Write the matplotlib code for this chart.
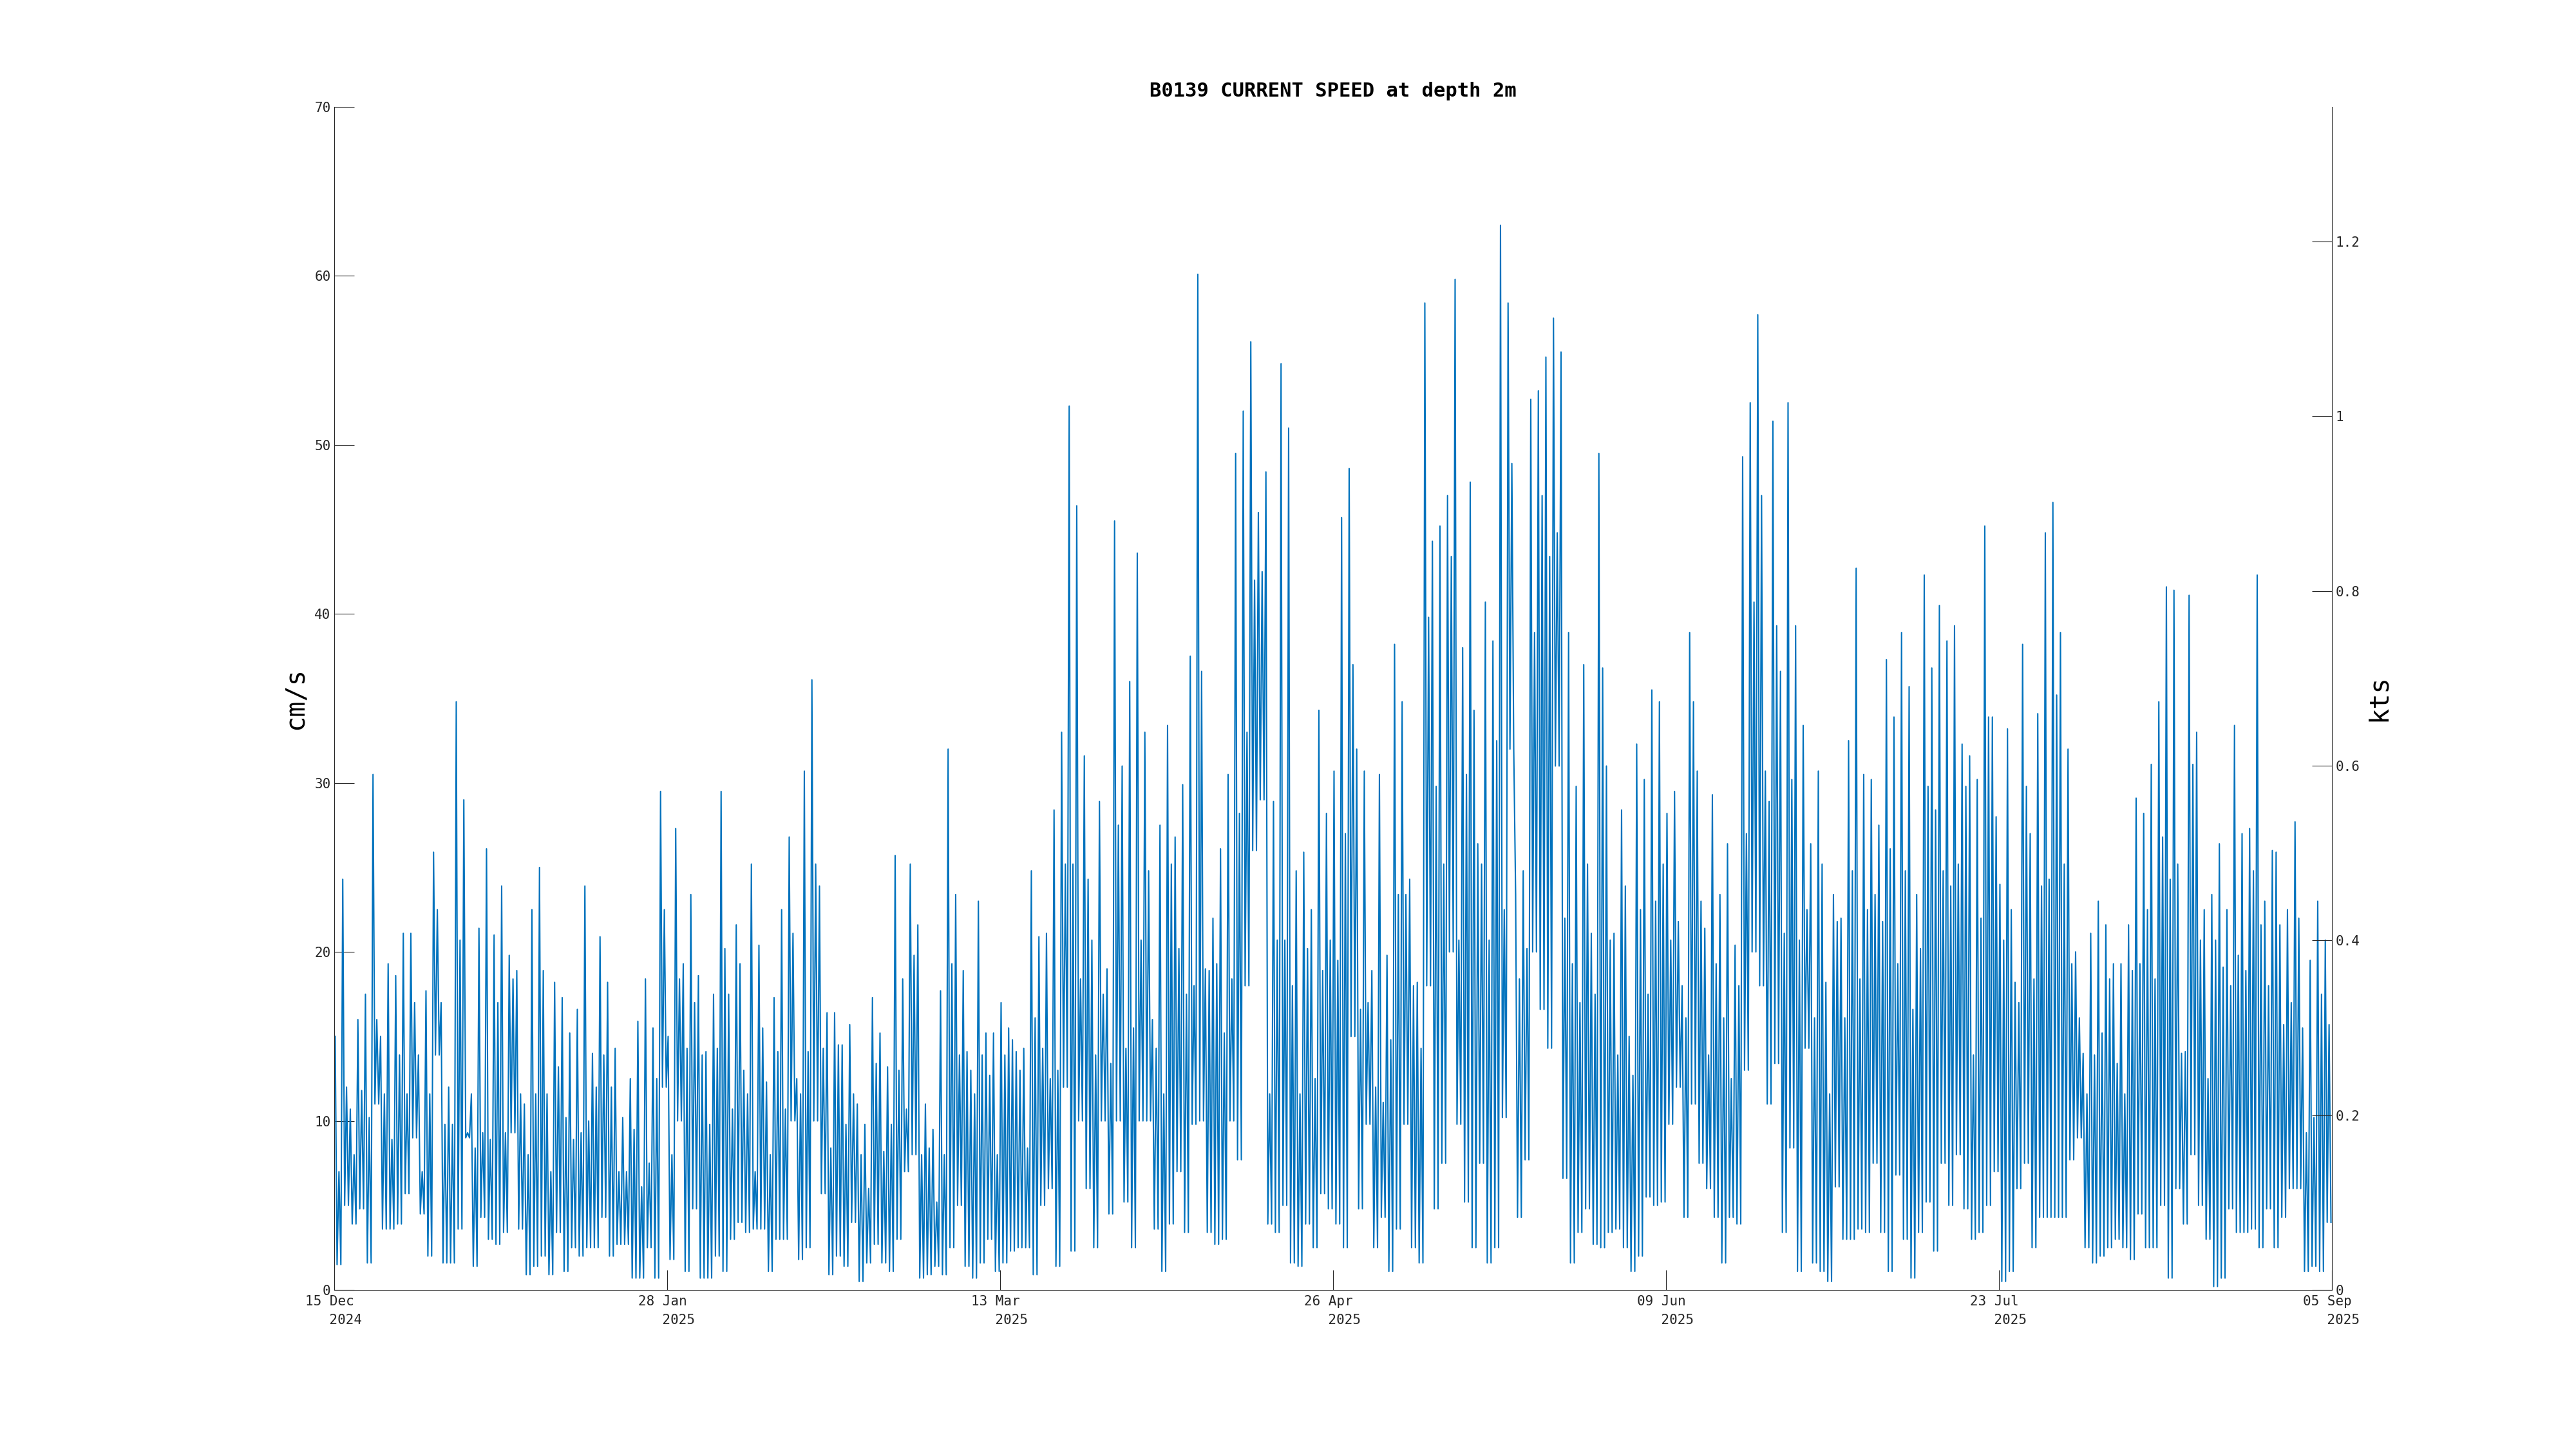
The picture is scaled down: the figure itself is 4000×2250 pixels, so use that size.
import numpy as np
import matplotlib
matplotlib.use('Agg')
import matplotlib.pyplot as plt
from matplotlib.transforms import ScaledTranslation

# ---------------- data ----------------
START = '2024-12-15'
END = '2025-09-05'

# per day (from 15 Dec 2024): highest peak, lowest trough and a secondary peak (cm/s)
DAILY_MAX = [
    15, 24.3, 10.7, 16, 17.5, 30.5, 15, 19.3, 18.6, 21.1,
    21.1, 13.9, 17.7, 25.9, 17, 12, 34.8, 29, 11.6, 21.4,
    26.1, 21, 23.9, 19.8, 18.9, 11, 22.5, 25, 11.6, 18.2,
    17.3, 15.2, 16.6, 23.9, 14, 20.9, 18.2, 14.3, 10.2, 12.5,
    15.9, 18.4, 15.5, 29.5, 15, 27.3, 19.3, 23.4, 18.6, 14.1,
    17.5, 29.5, 17.5, 21.6, 13, 25.2, 20.4, 12.3, 17.3, 22.5,
    26.8, 12.5, 30.7, 36.1, 23.9, 16.4, 16.4, 14.5, 15.7, 11,
    9.8, 17.3, 15.2, 13.2, 25.7, 18.4, 25.2, 21.6, 11, 9.5,
    17.7, 32, 23.4, 18.9, 13, 23, 15.2, 15.2, 17, 15.5,
    14.1, 14.3, 24.8, 20.9, 21.1, 28.4, 33, 52.3, 46.4, 31.6,
    20.7, 28.9, 19, 45.5, 31, 36, 43.6, 33, 16, 27.5,
    33.4, 26.8, 29.9, 37.5, 60.1, 19, 22, 26.1, 30.5, 49.5,
    52, 56.1, 46, 48.4, 28.9, 54.8, 51, 24.8, 25.9, 22.5,
    34.3, 28.2, 30.7, 45.7, 48.6, 32, 30.7, 18.9, 30.5, 19.8,
    38.2, 34.8, 24.3, 18.2, 58.4, 44.3, 45.2, 47, 59.8, 38,
    47.8, 26.4, 40.7, 38.4, 63, 58.4, 23.4, 24.8, 52.7, 53.2,
    55.2, 57.5, 55.5, 38.9, 29.8, 37, 21.1, 49.5, 31, 21.1,
    28.4, 15, 32.3, 30.2, 35.5, 34.8, 28.2, 29.5, 18, 38.9,
    30.7, 21.4, 29.3, 23.4, 26.4, 20.4, 49.3, 52.5, 57.7, 30.7,
    51.4, 36.6, 52.5, 39.3, 33.4, 26.4, 30.7, 18.2, 23.4, 22,
    32.5, 42.7, 30.5, 30.2, 27.5, 37.3, 33.9, 38.9, 35.7, 23.4,
    42.3, 36.8, 40.5, 38.4, 39.3, 32.3, 31.6, 30.2, 45.2, 33.9,
    24, 33.2, 18.2, 38.2, 27, 34.1, 44.8, 46.6, 38.9, 32,
    20, 14, 21.1, 23, 21.6, 19.3, 19.3, 21.6, 29.1, 28.2,
    31.1, 34.8, 41.6, 41.4, 14, 41.1, 33, 22.5, 23.4, 26.4,
    22.5, 33.4, 27, 27.3, 42.3, 23, 26, 21.6, 22.5, 27.7,
    15.5, 19.5, 23, 20.7,
]
DAILY_MIN = [
    1.5, 5, 3.9, 4.8, 1.6, 11, 3.6, 3.6, 3.9, 5.7,
    9, 4.5, 2, 13.9, 1.6, 1.6, 3.6, 9, 1.4, 4.3,
    3, 2.7, 3.4, 9.3, 3.6, 0.9, 1.4, 2, 0.9, 3.4,
    1.1, 2.5, 2, 2.5, 2.5, 4.3, 2, 2.7, 2.7, 0.7,
    0.7, 2.5, 0.7, 12, 1.8, 10, 1.1, 4.8, 0.7, 0.7,
    2, 1.1, 3, 4, 3.4, 3.6, 3.6, 1.1, 3, 3,
    10, 1.8, 2.5, 10, 5.7, 0.9, 2, 1.4, 4, 0.5,
    1.6, 2.7, 1.6, 1.1, 3, 7, 8, 0.7, 0.9, 1.4,
    0.9, 2.5, 5, 1.4, 0.7, 1.6, 3, 1.1, 1.6, 2.3,
    2.5, 2.5, 0.9, 5, 6, 1.4, 12, 2.3, 10, 6,
    2.5, 10, 4.5, 10, 5.2, 2.5, 10, 10, 3.6, 1.1,
    3.9, 7, 3.4, 9.8, 10, 3.4, 2.7, 3, 10, 7.7,
    18, 26, 29, 3.9, 3.4, 5, 1.6, 1.4, 3.9, 2.5,
    5.7, 4.8, 3.9, 2.5, 15, 4.8, 9.8, 2.5, 4.3, 1.1,
    3.6, 9.8, 2.5, 1.6, 18, 4.8, 7.5, 20, 9.8, 5.2,
    2.5, 7.5, 1.6, 2.5, 10.2, 32, 4.3, 7.7, 20, 16.6,
    14.3, 31, 6.6, 1.6, 3.4, 4.8, 2.7, 2.5, 3.4, 3.6,
    2.5, 1.1, 2, 5.5, 5, 5.2, 9.8, 12, 4.3, 11,
    7.5, 6, 4.3, 1.6, 4.3, 3.9, 13, 20, 18, 11,
    13.4, 3.4, 8.4, 1.1, 14.3, 1.6, 1.1, 0.5, 6.1, 3,
    3, 3.6, 3.4, 7.5, 3.4, 1.1, 6.8, 3, 0.7, 3.4,
    5.2, 2.3, 7.5, 5, 8, 4.8, 3, 3.4, 5, 7,
    0.5, 1.1, 6, 7.5, 2.5, 4.3, 4.3, 4.3, 4.3, 7.7,
    9, 2.5, 1.6, 2, 2.5, 3, 2.5, 1.8, 4.5, 2.5,
    2.5, 5, 0.7, 6, 3.9, 8, 5, 3, 0.2, 0.7,
    4.8, 3.4, 3.4, 3.6, 2.5, 4.8, 2.5, 4.3, 6, 6,
    1.1, 1.4, 1.1, 4,
]
DAILY_MID = [
    7, 12, 8, 11.8, 10.2, 16, 11.6, 8.9, 13.9, 11.6,
    17, 7, 11.6, 22.5, 9.8, 9.8, 20.7, 9.3, 8.4, 9.3,
    8.9, 17, 9.3, 18.4, 11.6, 8, 11.6, 18.9, 7, 13.2,
    10.2, 8.9, 9.3, 10, 12, 13.9, 12, 7, 7, 9.5,
    6.1, 7.5, 12.5, 22.5, 8, 18.4, 14.3, 17, 13.9, 9.8,
    14.3, 20.2, 10.7, 19.3, 11.6, 7, 15.5, 8, 14.1, 10.7,
    21.1, 11.6, 14.1, 25.2, 14.3, 8.4, 14.5, 9.8, 11.6, 8,
    6, 13.4, 8.2, 9.8, 13, 10.7, 19.8, 8, 8.4, 5.2,
    8, 19.3, 13.9, 14.1, 11.6, 13.9, 12.7, 8, 13.9, 14.8,
    13, 8.4, 16.1, 14.3, 12.5, 13, 25.2, 25.2, 18.4, 24.3,
    13.9, 17.5, 13.4, 27.5, 14.3, 15.5, 20.7, 24.8, 14.3, 11.6,
    25.2, 20.2, 17.5, 18, 36.6, 18.9, 19.3, 15.2, 18.4, 28.2,
    33, 42, 42.5, 11.6, 20.7, 20.7, 18, 11.6, 20.2, 12.5,
    18.9, 20.7, 19.5, 27, 37, 16.6, 17, 12, 11.1, 14.8,
    23.4, 23.4, 18, 14.3, 39.8, 29.8, 25.2, 43.4, 20.7, 30.5,
    34.3, 25.2, 20.7, 32.5, 22.5, 48.9, 18.4, 20.2, 38.9, 47,
    43.4, 44.8, 22, 19.3, 17, 25.2, 17.5, 36.8, 20.7, 13.9,
    23.9, 12.7, 22.5, 17.5, 23, 25.2, 20.7, 21.8, 16.1, 34.8,
    23, 13.9, 19.3, 16.1, 12.5, 18, 27, 40.7, 47, 28.9,
    39.3, 21.1, 30.2, 20.7, 22.5, 16.1, 25.2, 11.6, 21.8, 16.1,
    24.8, 18.4, 22.5, 23.4, 21.8, 26.1, 19.3, 24.8, 16.6, 20.2,
    29.8, 28.4, 24.8, 23.9, 25.2, 29.8, 13.9, 22, 33.9, 28,
    20.7, 22.5, 17, 29.8, 18.4, 23.9, 24.3, 35.2, 25.2, 19.3,
    16.1, 11.6, 13.9, 15.2, 18.4, 13.4, 11.6, 18.9, 19.3, 22.5,
    18.4, 26.8, 24.3, 25.2, 14.1, 31.1, 20.7, 12.5, 20.7, 19.1,
    18, 19.8, 18.9, 24.8, 21.6, 18, 25.9, 15.7, 17, 22,
    9.3, 10.2, 17.5, 15.7,
]

TICK_DATES = ['2024-12-15', '2025-01-28', '2025-03-13', '2025-04-26',
              '2025-06-09', '2025-07-23', '2025-09-05']
TICK_DAY = ['15 Dec', '28 Jan', '13 Mar', '26 Apr', '09 Jun', '23 Jul', '05 Sep']
TICK_YEAR = ['2024', '2025', '2025', '2025', '2025', '2025', '2025']
CM_TICKS = [0, 10, 20, 30, 40, 50, 60, 70]
KTS_TICKS = [0, 0.2, 0.4, 0.6, 0.8, 1.0, 1.2]
KTS_LABELS = ['0', '0.2', '0.4', '0.6', '0.8', '1', '1.2']
CM_PER_KT = 51.7
TITLE = 'B0139 CURRENT SPEED at depth 2m'

# ---------------- build series (two tidal cycles per day) ----------------
n = len(DAILY_MAX)
day0 = np.datetime64(START + 'T00:00')
base = day0 + np.arange(n) * np.timedelta64(24, 'h')
times = np.empty(4 * n, dtype='datetime64[m]')
vals = np.empty(4 * n)
times[0::4] = base + np.timedelta64(3, 'h')
times[1::4] = base + np.timedelta64(9, 'h')
times[2::4] = base + np.timedelta64(15, 'h')
times[3::4] = base + np.timedelta64(21, 'h')
vals[0::4] = DAILY_MAX
vals[1::4] = DAILY_MIN
vals[2::4] = DAILY_MID
vals[3::4] = DAILY_MIN

# ---------------- plot ----------------
plt.rcParams['font.family'] = ['DejaVu Sans Mono']
fig = plt.figure(figsize=(40, 22.5), dpi=100)
fig.patch.set_facecolor('white')
ax = fig.add_axes([0.12975, 0.10978, 0.7755, 0.81644])
ax.plot(times, vals, color='#0072BD', linewidth=1.5)

ax.set_xlim(np.datetime64(START), np.datetime64(END))
ax.set_ylim(0, 70)
ax.set_yticks(CM_TICKS)
ax.set_yticklabels([str(v) for v in CM_TICKS])
ax.set_xticks([np.datetime64(d) for d in TICK_DATES])
ax.set_xticklabels([f'{d}\n    {y}' for d, y in zip(TICK_DAY, TICK_YEAR)],
                   linespacing=1.58)

for s in ['top', 'right']:
    ax.spines[s].set_visible(False)
for s in ['left', 'bottom']:
    ax.spines[s].set_linewidth(0.8)
    ax.spines[s].set_color('#262626')
ax.tick_params(axis='both', direction='in', length=22, width=0.8,
               colors='#262626', labelsize=15, pad=4)
ax.tick_params(axis='x', top=False, pad=5.5)
ax.tick_params(axis='y', right=False)

shift = ScaledTranslation(-7.5 / 100, 0, fig.dpi_scale_trans)
for lab in ax.get_xticklabels():
    lab.set_transform(lab.get_transform() + shift)

ax2 = ax.twinx()
ax2.set_ylim(0, 70 / CM_PER_KT)
ax2.set_yticks(KTS_TICKS)
ax2.set_yticklabels(KTS_LABELS)
for s in ['top', 'left', 'bottom']:
    ax2.spines[s].set_visible(False)
ax2.spines['right'].set_linewidth(0.8)
ax2.spines['right'].set_color('#262626')
ax2.tick_params(axis='y', direction='in', length=22, width=0.8,
                colors='#262626', labelsize=15, pad=4)

fig.text(0.5175, 1 - 142 / 2250, TITLE, ha='center', va='center',
         fontsize=22, fontweight='bold')
fig.text(459 / 4000, 1 - 1084 / 2250, 'cm/s', rotation=90, ha='center',
         va='center', fontsize=29)
fig.text(3694 / 4000, 1 - 1084 / 2250, 'kts', rotation=90, ha='center',
         va='center', fontsize=29)

fig.savefig('out.png', dpi=100, facecolor='white')
